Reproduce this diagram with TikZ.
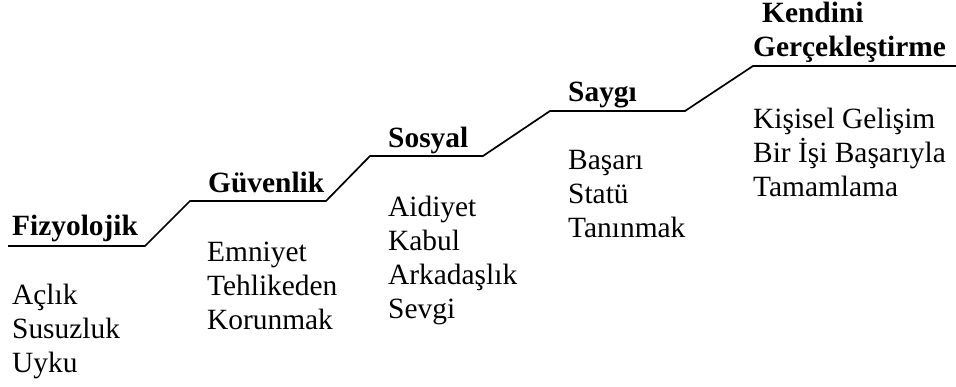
\documentclass[tikz,border=0pt]{standalone}
\usepackage{fontspec}
\setmainfont{Liberation Serif}
\begin{document}
\begin{tikzpicture}[x=1pt,y=-1pt,
  head/.style={anchor=base west,inner sep=0pt,font=\fontsize{29.4}{35}\selectfont\bfseries},
  item/.style={anchor=base west,inner sep=0pt,font=\fontsize{29.4}{35}\selectfont},
  stair/.style={line width=1.7pt,line join=miter}]
\useasboundingbox (0,0) rectangle (956,387);
% stair line
\coordinate (p0) at (8,246);
\coordinate (p1) at (145,246);
\coordinate (p2) at (190,201);
\coordinate (p3) at (326,201);
\coordinate (p4) at (370,156);
\coordinate (p5) at (483,156);
\coordinate (p6) at (550,111);
\coordinate (p7) at (685,111);
\coordinate (p8) at (753,66);
\coordinate (p9) at (956,66);
\draw[stair] (p0) -- (p1) -- (p2) -- (p3) -- (p4) -- (p5) -- (p6) -- (p7) -- (p8) -- (p9);
% Fizyolojik
\node[head] (h1) at (12,236) {Fizyolojik};
\node[item] (a1) at (12,305) {Açlık};
\node[item] (a2) at (12,339) {Susuzluk};
\node[item] (a3) at (12,373) {Uyku};
% Güvenlik
\node[head] (h2) at (208,193) {Güvenlik};
\node[item] (b1) at (207,262) {Emniyet};
\node[item] (b2) at (207,296) {Tehlikeden};
\node[item] (b3) at (207,330) {Korunmak};
% Sosyal
\node[head] (h3) at (388,148) {Sosyal};
\node[item] (c1) at (388,217) {Aidiyet};
\node[item] (c2) at (388,251) {Kabul};
\node[item] (c3) at (388,285) {Arkadaşlık};
\node[item] (c4) at (388,319) {Sevgi};
% Saygı
\node[head] (h4) at (568,102) {Saygı};
\node[item] (d1) at (568,170) {Başarı};
\node[item] (d2) at (568,204) {Statü};
\node[item] (d3) at (568,238) {Tanınmak};
% Kendini Gerçekleştirme
\node[head] (h5a) at (762,23) {Kendini};
\node[head] (h5b) at (753,57) {Gerçekleştirme};
\node[item] (e1) at (753,129) {Kişisel Gelişim};
\node[item] (e2) at (753,163) {Bir İşi Başarıyla};
\node[item] (e3) at (753,197) {Tamamlama};
\end{tikzpicture}
\end{document}
